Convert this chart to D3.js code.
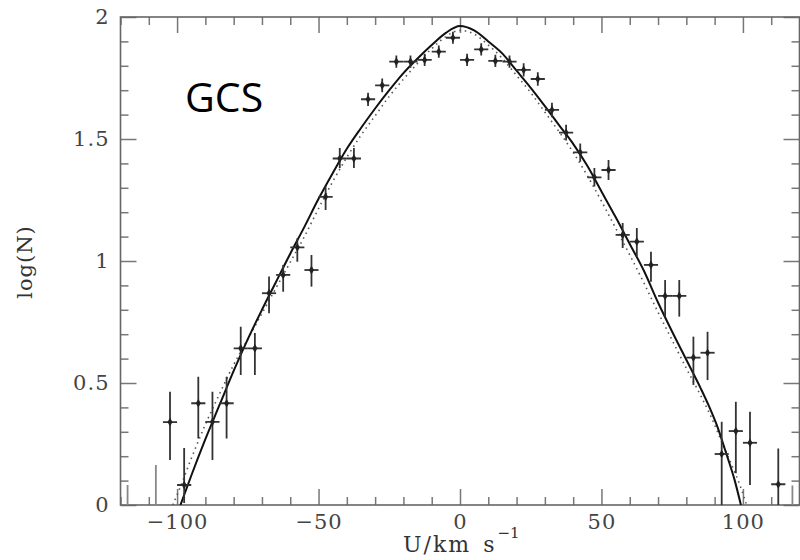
<!DOCTYPE html>
<html lang="en">
<head>
<meta charset="utf-8">
<script src="https://d3js.org/d3.v7.min.js"></script>
<style>
  html, body { margin: 0; padding: 0; background: #fff; }
  svg { display: block; }
  .tick text { font-family: "DejaVu Serif", serif; font-size: 21px; fill: #444; letter-spacing: 1px; }
  .tick line { stroke: #777; stroke-width: 1.5; }
</style>
</head>
<body>
<script>
// binned velocity distribution (U in km/s, log N)
var binU  = [-102.5, -97.5, -92.5, -87.5, -82.5, -77.5, -72.5, -67.5, -62.5, -57.5, -52.5, -47.5, -42.5, -37.5, -32.5, -27.5, -22.5, -17.5, -12.5, -7.5, -2.5,
             2.5, 7.5, 12.5, 17.5, 22.5, 27.5, 32.5, 37.5, 42.5, 47.5, 52.5, 57.5, 62.5, 67.5, 72.5, 77.5, 82.5, 87.5, 92.5, 97.5, 102.5, 112.5];
var logN  = [0.34, 0.082, 0.417, 0.341, 0.417, 0.642, 0.642, 0.868, 0.943, 1.056, 0.963, 1.263, 1.42, 1.42, 1.663, 1.72, 1.817, 1.817, 1.824, 1.858, 1.915,
             1.824, 1.867, 1.82, 1.817, 1.783, 1.746, 1.619, 1.526, 1.445, 1.343, 1.373, 1.107, 1.079, 0.984, 0.857, 0.857, 0.604, 0.624, 0.209, 0.303, 0.255, 0.085];
var errLo = [0.184, 0.008, 0.273, 0.184, 0.273, 0.533, 0.533, 0.786, 0.874, 0.997, 0.895, 1.209, 1.381, 1.381, 1.635, 1.692, 1.792, 1.792, 1.799, 1.833, 1.89,
             1.799, 1.842, 1.795, 1.792, 1.756, 1.718, 1.589, 1.494, 1.407, 1.305, 1.332, 1.053, 1.018, 0.915, 0.772, 0.772, 0.492, 0.512, 0.0, 0.13, 0.082, 0.0];
var errHi = [0.464, 0.234, 0.526, 0.464, 0.526, 0.731, 0.705, 0.936, 0.984, 1.093, 1.025, 1.305, 1.463, 1.463, 1.69, 1.748, 1.842, 1.842, 1.849, 1.883, 1.94,
             1.849, 1.892, 1.845, 1.842, 1.81, 1.774, 1.649, 1.558, 1.482, 1.381, 1.414, 1.156, 1.135, 1.038, 0.922, 0.922, 0.69, 0.71, 0.341, 0.423, 0.382, 0.232];
// bins with log N below the plot: only the top of the error bar shows
var lowU  = [-117.5, -107.5, 117.5];
var lowHi = [0.082, 0.164, 0.08];

// model curves (solid and dotted)
var fitU = [-98.8, -95, -90, -85, -80, -75, -70, -65, -60, -55, -50, -45, -40, -35, -30, -25, -20, -15, -10, -5, 0,
            5, 10, 15, 20, 25, 30, 35, 40, 45, 50, 55, 60, 65, 70, 75, 80, 85, 88, 91, 94, 97, 99.3];
var fitN = [0, 0.12, 0.27, 0.41, 0.55, 0.68, 0.80, 0.915, 1.03, 1.14, 1.255, 1.36, 1.46, 1.545, 1.625, 1.70, 1.77, 1.83, 1.885, 1.935, 1.963,
            1.945, 1.90, 1.85, 1.78, 1.71, 1.635, 1.557, 1.48, 1.39, 1.285, 1.18, 1.07, 0.96, 0.83, 0.71, 0.595, 0.48, 0.405, 0.32, 0.215, 0.105, 0];
var dotU = [-101.5, -99, -95, -90, -85, -80, -75, -70, -65, -60, -55, -50, -45, -40, -35, -30, -25, -20, -15, -10, -5, 0,
            5, 10, 15, 20, 25, 30, 35, 40, 45, 50, 55, 60, 65, 70, 75, 80, 85, 89, 93, 96, 99, 101.3];
var dotN = [0, 0.07, 0.19, 0.33, 0.455, 0.575, 0.68, 0.785, 0.89, 0.995, 1.10, 1.215, 1.325, 1.425, 1.515, 1.595, 1.675, 1.745, 1.81, 1.87, 1.92, 1.945,
            1.93, 1.885, 1.83, 1.76, 1.69, 1.61, 1.53, 1.445, 1.35, 1.245, 1.135, 1.025, 0.91, 0.79, 0.675, 0.56, 0.45, 0.355, 0.245, 0.165, 0.08, 0];

var xMajor = [-100, -50, 0, 50, 100];
var yMajor = [0, 0.5, 1, 1.5, 2];

var W = 800, H = 560;
var pL = 120.5, pR = 799.5, pT = 17, pB = 505;

var svg = d3.select("body").append("svg").attr("width", W).attr("height", H);

var x = d3.scaleLinear().domain([-120, 120]).range([pL, pR]);
var y = d3.scaleLinear().domain([0, 2]).range([pB, pT]);

var xMinor = d3.range(-120, 121, 10).filter(function(v) { return v % 50 !== 0; });
var yMinor = d3.range(0, 21).map(function(v) { return v / 10; }).filter(function(v) { return Math.round(v * 10) % 5 !== 0; });
var fmt = d3.format("~g");

function noDomain(g) { g.select(".domain").remove(); }

// bottom / top axes
svg.append("g").attr("transform", "translate(0," + pB + ")")
  .call(d3.axisBottom(x).tickValues(xMajor).tickSize(-16).tickPadding(9).tickFormat(fmt)).call(noDomain);
svg.append("g").attr("transform", "translate(0," + pB + ")")
  .call(d3.axisBottom(x).tickValues(xMinor).tickSize(-8).tickFormat("")).call(noDomain);
svg.append("g").attr("transform", "translate(0," + pT + ")")
  .call(d3.axisTop(x).tickValues(xMajor).tickSize(-16).tickFormat("")).call(noDomain);
svg.append("g").attr("transform", "translate(0," + pT + ")")
  .call(d3.axisTop(x).tickValues(xMinor).tickSize(-8).tickFormat("")).call(noDomain);

// left / right axes
svg.append("g").attr("transform", "translate(" + pL + ",0)")
  .call(d3.axisLeft(y).tickValues(yMajor).tickSize(-16).tickPadding(11).tickFormat(fmt)).call(noDomain);
svg.append("g").attr("transform", "translate(" + pL + ",0)")
  .call(d3.axisLeft(y).tickValues(yMinor).tickSize(-8).tickFormat("")).call(noDomain);
svg.append("g").attr("transform", "translate(" + pR + ",0)")
  .call(d3.axisRight(y).tickValues(yMajor).tickSize(-16).tickFormat("")).call(noDomain);
svg.append("g").attr("transform", "translate(" + pR + ",0)")
  .call(d3.axisRight(y).tickValues(yMinor).tickSize(-8).tickFormat("")).call(noDomain);

// frame
svg.append("rect")
  .attr("x", pL).attr("y", pT)
  .attr("width", pR - pL).attr("height", pB - pT)
  .attr("fill", "none").attr("stroke", "#666").attr("stroke-width", 1.6);

svg.append("clipPath").attr("id", "plot")
  .append("rect").attr("x", pL).attr("y", pT).attr("width", pR - pL).attr("height", pB - pT);

var plot = svg.append("g").attr("clip-path", "url(#plot)");

// curves
var line = d3.line().x(function(d) { return x(d[0]); }).y(function(d) { return y(d[1]); }).curve(d3.curveMonotoneX);

plot.append("path")
  .datum(d3.zip(dotU, dotN))
  .attr("d", line)
  .attr("fill", "none").attr("stroke", "#555").attr("stroke-width", 1.6)
  .attr("stroke-dasharray", "1.5,4");

plot.append("path")
  .datum(d3.zip(fitU, fitN))
  .attr("d", line)
  .attr("fill", "none").attr("stroke", "#111").attr("stroke-width", 2);

// data points with error bars
var pts = binU.map(function(u, i) { return { u: u, n: logN[i], lo: errLo[i], hi: errHi[i] }; });
var pg = plot.selectAll("g.pt").data(pts).enter().append("g").attr("class", "pt");

pg.append("line")
  .attr("x1", function(d) { return x(d.u); }).attr("x2", function(d) { return x(d.u); })
  .attr("y1", function(d) { return y(d.lo); }).attr("y2", function(d) { return y(d.hi); })
  .attr("stroke", "#333").attr("stroke-width", 1.8);
pg.append("line")
  .attr("x1", function(d) { return x(d.u - 2.5); }).attr("x2", function(d) { return x(d.u + 2.5); })
  .attr("y1", function(d) { return y(d.n); }).attr("y2", function(d) { return y(d.n); })
  .attr("stroke", "#333").attr("stroke-width", 1.8);
pg.append("path")
  .attr("transform", function(d) { return "translate(" + x(d.u) + "," + y(d.n) + ")"; })
  .attr("d", d3.symbol(d3.symbolDiamond, 22))
  .attr("fill", "#222");

plot.selectAll("line.low").data(d3.zip(lowU, lowHi)).enter().append("line")
  .attr("class", "low")
  .attr("x1", function(d) { return x(d[0]); }).attr("x2", function(d) { return x(d[0]); })
  .attr("y1", y(0)).attr("y2", function(d) { return y(d[1]); })
  .attr("stroke", "#888").attr("stroke-width", 1.8);

// axis titles
svg.append("text")
  .attr("transform", "translate(32,262) rotate(-90)")
  .attr("text-anchor", "middle")
  .style("font-family", "DejaVu Serif, serif").style("font-size", "21px").style("fill", "#333")
  .style("letter-spacing", "1px")
  .text("log(N)");

var xl = svg.append("text")
  .attr("x", 403).attr("y", 552)
  .style("font-family", "DejaVu Serif, serif").style("font-size", "22px").style("fill", "#333")
  .style("letter-spacing", "2px");
xl.append("tspan").text("U/km");
xl.append("tspan").attr("dx", 12).text("s");
xl.append("tspan").attr("dy", -14).attr("dx", 1).style("font-size", "15px").style("letter-spacing", "0px").text("\u22121");

// panel label
svg.append("text")
  .attr("x", 185).attr("y", 112)
  .style("font-family", "Open Sans, sans-serif").style("font-size", "41px").style("fill", "#000")
  .text("GCS");
</script>
</body>
</html>
